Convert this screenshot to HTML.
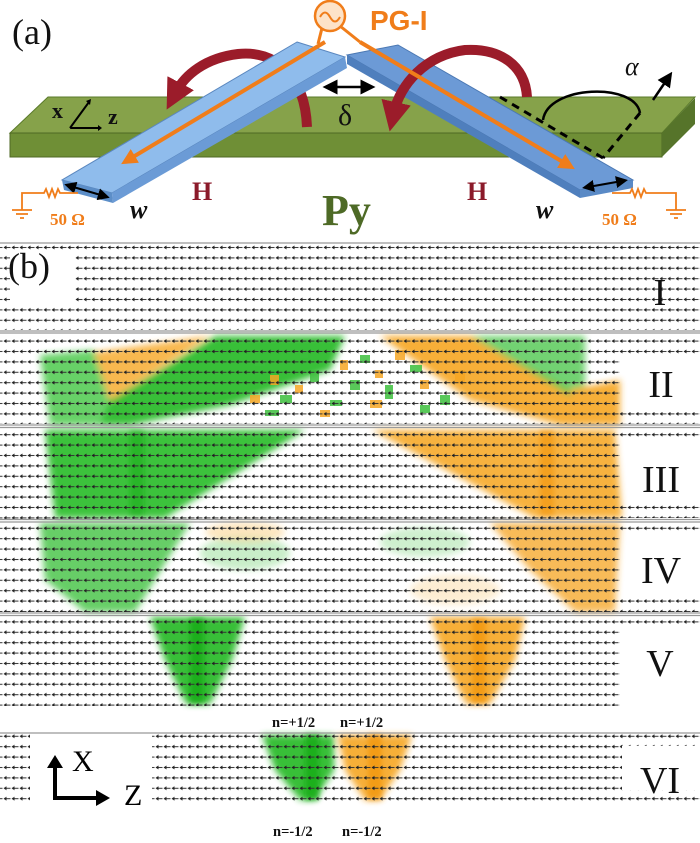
<!DOCTYPE html>
<html><head><meta charset="utf-8"><style>
html,body{margin:0;padding:0;background:#fff;}
svg{display:block;}
</style></head><body>
<svg width="700" height="843" viewBox="0 0 700 843" xmlns="http://www.w3.org/2000/svg">
<defs>
<pattern id="vec" patternUnits="userSpaceOnUse" width="8" height="10.4" x="3" y="244">
<path d="M1 3.5h6.5" stroke="#333" stroke-width="1" fill="none"/>
<path d="M0.5 3.5l3 -2v4z" fill="#222"/>
</pattern>
<filter id="bl" x="-20%" y="-20%" width="140%" height="140%"><feGaussianBlur stdDeviation="3.5"/></filter>
<filter id="bl2" x="-20%" y="-20%" width="140%" height="140%"><feGaussianBlur stdDeviation="2.5"/></filter>
<marker id="oa" markerWidth="4" markerHeight="4" refX="2" refY="2" orient="auto"><path d="M0 0L4 2L0 4z" fill="#f07d1a"/></marker>
<marker id="ka" markerWidth="6" markerHeight="6" refX="3" refY="3" orient="auto"><path d="M0 0L6 3L0 6z" fill="#000"/></marker>
<marker id="ka2" markerWidth="6" markerHeight="6" refX="3" refY="3" orient="auto-start-reverse"><path d="M0 0L6 3L0 6z" fill="#000"/></marker>
<marker id="ra" markerWidth="3" markerHeight="3" refX="1" refY="1.5" orient="auto"><path d="M0 0L3 1.5L0 3z" fill="#9b1c2a"/></marker>
</defs>

<g filter="url(#bl)" opacity="0.9">
<polygon points="40,355 95,350 110,400 100,425 50,425" fill="#2bbf2b" opacity="0.8"/>
<polygon points="95,352 210,336 110,400" fill="#f8b03a"/>
<polygon points="215,336 345,336 330,370 230,405 130,425 100,425 110,400" fill="#22b822"/>
<polygon points="380,336 470,336 610,410 615,425 560,425 470,400" fill="#f6a624"/>
<polygon points="470,336 585,336 585,405" fill="#3cc03c" opacity="0.8"/>
<polygon points="570,390 620,380 620,425 575,425" fill="#f6a624"/>
<polygon points="45,430 305,430 165,518 55,518" fill="#28bc28"/>
<polygon points="372,430 615,430 622,518 535,518" fill="#f7aa2c"/>
<polygon points="40,523 190,523 135,612 85,612 45,580" fill="#2cbc2c" opacity="0.8"/>
<polygon points="490,523 620,523 615,612 575,612 530,570" fill="#f6a624" opacity="0.85"/>
<ellipse cx="245" cy="553" rx="45" ry="17" fill="#9be09b" opacity="0.6"/>
<ellipse cx="245" cy="532" rx="40" ry="10" fill="#fbd28a" opacity="0.6"/>
<ellipse cx="425" cy="542" rx="45" ry="15" fill="#a5e2a5" opacity="0.6"/>
<ellipse cx="455" cy="590" rx="45" ry="15" fill="#fbd9a0" opacity="0.5"/>
<polygon points="150,617 245,617 232,660 210,704 186,704 165,660" fill="#22b822"/>
<polygon points="430,617 525,617 515,660 490,704 466,704 445,660" fill="#f6a624"/>
<polygon points="262,735 334,735 334,770 315,800 300,800 275,770" fill="#22b822"/>
<polygon points="338,735 412,735 400,770 380,800 365,800 345,770" fill="#f6a624"/>
</g>
<g filter="url(#bl2)">
<rect x="190" y="618" width="14" height="86" fill="#0fa80f" opacity="0.7"/>
<rect x="472" y="618" width="14" height="86" fill="#f09000" opacity="0.6"/>
<rect x="305" y="734" width="14" height="66" fill="#0fa80f" opacity="0.7"/>
<rect x="368" y="734" width="14" height="66" fill="#f09000" opacity="0.6"/>
<rect x="130" y="430" width="14" height="86" fill="#0fa80f" opacity="0.5"/>
<rect x="540" y="430" width="14" height="86" fill="#f09000" opacity="0.5"/>
</g>
<g opacity="0.85">
<g fill="#3cbf3c">
<rect x="255" y="360" width="10" height="6"/><rect x="280" y="395" width="12" height="8"/><rect x="310" y="370" width="9" height="12"/><rect x="330" y="400" width="12" height="6"/><rect x="360" y="355" width="10" height="8"/><rect x="385" y="385" width="8" height="14"/><rect x="410" y="365" width="12" height="7"/><rect x="440" y="395" width="10" height="10"/><rect x="300" y="350" width="8" height="8"/><rect x="350" y="380" width="10" height="10"/><rect x="265" y="410" width="14" height="6"/><rect x="420" y="405" width="10" height="8"/>
</g>
<g fill="#f6a624">
<rect x="270" y="375" width="9" height="10"/><rect x="295" y="385" width="8" height="8"/><rect x="340" y="360" width="8" height="10"/><rect x="370" y="400" width="12" height="8"/><rect x="395" y="350" width="10" height="10"/><rect x="420" y="380" width="9" height="9"/><rect x="455" y="370" width="10" height="12"/><rect x="320" y="410" width="10" height="7"/><rect x="375" y="370" width="8" height="8"/><rect x="250" y="395" width="10" height="8"/>
</g>
</g>

<rect x="0" y="244" width="700" height="86" fill="url(#vec)"/>
<rect x="0" y="334" width="620" height="90" fill="url(#vec)"/>
<rect x="620" y="334" width="80" height="22" fill="url(#vec)"/>
<rect x="620" y="412" width="80" height="12" fill="url(#vec)"/>
<rect x="0" y="429" width="620" height="90" fill="url(#vec)"/>
<rect x="620" y="429" width="80" height="12" fill="url(#vec)"/>
<rect x="620" y="504" width="80" height="14" fill="url(#vec)"/>
<rect x="0" y="522" width="620" height="90" fill="url(#vec)"/>
<rect x="620" y="522" width="80" height="12" fill="url(#vec)"/>
<rect x="620" y="598" width="80" height="14" fill="url(#vec)"/>
<rect x="0" y="616" width="620" height="90" fill="url(#vec)"/>
<rect x="620" y="616" width="80" height="12" fill="url(#vec)"/>
<rect x="0" y="734" width="30" height="68" fill="url(#vec)"/>
<rect x="152" y="734" width="470" height="68" fill="url(#vec)"/>
<rect x="620" y="734" width="80" height="12" fill="url(#vec)"/>
<rect x="620" y="790" width="80" height="12" fill="url(#vec)"/>
<rect x="10" y="252" width="65" height="50" fill="#fff"/>

<g stroke="#999" stroke-width="1.2">
<line x1="0" y1="243" x2="700" y2="243"/>
<line x1="0" y1="331" x2="700" y2="331"/><line x1="0" y1="333" x2="700" y2="333"/>
<line x1="0" y1="425" x2="700" y2="425"/><line x1="0" y1="427.5" x2="700" y2="427.5"/>
<line x1="0" y1="519.5" x2="700" y2="519.5"/><line x1="0" y1="522" x2="700" y2="522"/>
<line x1="0" y1="613" x2="700" y2="613"/><line x1="0" y1="615.5" x2="700" y2="615.5"/>
<line x1="0" y1="733" x2="700" y2="733"/>
</g>

<g font-family="Liberation Serif, serif" font-size="38" fill="#111" text-anchor="middle">
<text x="660" y="305">I</text>
<text x="661" y="397">II</text>
<text x="661" y="492">III</text>
<text x="661" y="583">IV</text>
<text x="660" y="676">V</text>
<text x="660" y="793">VI</text>
</g>
<text x="8" y="278" font-family="Liberation Serif, serif" font-size="36" fill="#111">(b)</text>
<g font-family="Liberation Serif, serif" font-size="14.5" font-weight="bold" fill="#111">
<text x="272" y="727">n=+1/2</text><text x="340" y="727">n=+1/2</text>
<text x="273" y="836">n=-1/2</text><text x="342" y="836">n=-1/2</text>
</g>
<path d="M55 800V765" stroke="#000" stroke-width="4" fill="none"/>
<path d="M47 768L55 755L63 768z" fill="#000"/>
<path d="M53 798H98" stroke="#000" stroke-width="4"/>
<path d="M96 790L110 798L96 806z" fill="#000"/>
<text x="72" y="771" font-family="Liberation Serif, serif" font-size="30">X</text>
<text x="124" y="805" font-family="Liberation Serif, serif" font-size="30">Z</text>

<polygon points="48,97 695,97 662,133 10,133" fill="#86a24a" stroke="#5a7a2a" stroke-width="1"/>
<rect x="10" y="133" width="652" height="24" fill="#6f8f36" stroke="#4f6a24" stroke-width="1"/>
<polygon points="662,133 695,98 695,124 662,157" fill="#56742a"/>
<path d="M307 127 C305 75 275 50 238 54 C205 58 185 75 176 92" stroke="#9b1c2a" stroke-width="10" fill="none" marker-end="url(#ra)"/>
<polygon points="297,42 345,57 112,193 62,180" fill="#8fbcec" stroke="#5a87bf" stroke-width="1"/>
<polygon points="345,57 347,68 113,203 112,193" fill="#6b9bd6"/>
<polygon points="62,180 112,193 113,203 64,190" fill="#5c8ec8"/>
<polygon points="347,55 398,45 633,180 580,190" fill="#6c9ad6" stroke="#4b78b3" stroke-width="1"/>
<polygon points="347,55 580,190 580,198 347,64" fill="#4f7fbd"/>
<polygon points="580,190 633,180 633,188 580,198" fill="#5a8ac6"/>
<path d="M527 97 C525 65 500 48 465 50 C425 55 400 85 394 112" stroke="#9b1c2a" stroke-width="10" fill="none" marker-end="url(#ra)"/>
<line x1="325" y1="42" x2="128" y2="160" stroke="#f07d1a" stroke-width="4" marker-end="url(#oa)"/>
<line x1="360" y1="42" x2="568" y2="165" stroke="#f07d1a" stroke-width="4" marker-end="url(#oa)"/>
<line x1="322" y1="28" x2="318" y2="44" stroke="#f07d1a" stroke-width="3"/>
<line x1="340" y1="26" x2="360" y2="42" stroke="#f07d1a" stroke-width="3"/>
<circle cx="330" cy="16" r="15" fill="#fde3c8" stroke="#f07d1a" stroke-width="2.5"/>
<path d="M320 17 q5 -9 10 0 t10 0" stroke="#f07d1a" stroke-width="2" fill="none"/>
<text x="370" y="30" font-family="Liberation Sans, sans-serif" font-size="28" font-weight="bold" fill="#f07d1a">PG-I</text>
<text x="12" y="44" font-family="Liberation Serif, serif" font-size="36" fill="#111">(a)</text>
<line x1="330" y1="87" x2="368" y2="87" stroke="#000" stroke-width="2.5" marker-end="url(#ka)" marker-start="url(#ka2)"/>
<text x="338" y="125" font-family="Liberation Serif, serif" font-size="30" fill="#111">δ</text>
<text x="52" y="118" font-family="Liberation Serif, serif" font-size="22" font-weight="bold" fill="#111">x</text>
<text x="108" y="124" font-family="Liberation Serif, serif" font-size="22" font-weight="bold" fill="#111">z</text>
<path d="M70 128 L89 102 M70 128 H100" stroke="#000" stroke-width="2" fill="none"/>
<path d="M86 101 L91 99 L90 105z M98 125 L102 128 L98 131z" fill="#000"/>
<path d="M543 120 C548 85 635 82 640 113" stroke="#000" stroke-width="2.5" fill="none"/>
<path d="M500 97 L603 158" stroke="#000" stroke-width="3" stroke-dasharray="8,6" fill="none"/>
<path d="M640 113 L603 158" stroke="#000" stroke-width="3" stroke-dasharray="8,6" fill="none"/>
<line x1="653" y1="100" x2="668" y2="78" stroke="#000" stroke-width="2.5" marker-end="url(#ka)"/>
<text x="625" y="75" font-family="Liberation Serif, serif" font-size="26" font-style="italic" fill="#111">α</text>
<text x="192" y="200" font-family="Liberation Serif, serif" font-size="26" font-weight="bold" fill="#8b1a2a">H</text>
<text x="467" y="200" font-family="Liberation Serif, serif" font-size="26" font-weight="bold" fill="#8b1a2a">H</text>
<text x="322" y="225" font-family="Liberation Serif, serif" font-size="44" font-weight="bold" fill="#4e6a26">Py</text>
<text x="130" y="218" font-family="Liberation Serif, serif" font-size="26" font-weight="bold" font-style="italic" fill="#111">w</text>
<text x="536" y="218" font-family="Liberation Serif, serif" font-size="26" font-weight="bold" font-style="italic" fill="#111">w</text>
<line x1="70" y1="186" x2="104" y2="196" stroke="#000" stroke-width="2" marker-end="url(#ka)" marker-start="url(#ka2)"/>
<line x1="588" y1="187" x2="622" y2="181" stroke="#000" stroke-width="2" marker-end="url(#ka)" marker-start="url(#ka2)"/>
<g stroke="#f07d1a" stroke-width="1.8" fill="none">
<path d="M78 193 H60 l-2 -4 l-3 8 l-3 -8 l-3 8 l-3 -8 l-2 4 H22 V210"/>
<path d="M12 210 H32 M16 214 H28 M20 218 H24"/>
<path d="M612 193 H630 l2 -4 l3 8 l3 -8 l3 8 l3 -8 l2 4 H676 V210"/>
<path d="M666 210 H686 M670 214 H682 M674 218 H678"/>
</g>
<text x="50" y="225" font-family="Liberation Serif, serif" font-size="17" font-weight="bold" fill="#f07d1a">50 Ω</text>
<text x="602" y="225" font-family="Liberation Serif, serif" font-size="17" font-weight="bold" fill="#f07d1a">50 Ω</text>
</svg>
</body></html>
